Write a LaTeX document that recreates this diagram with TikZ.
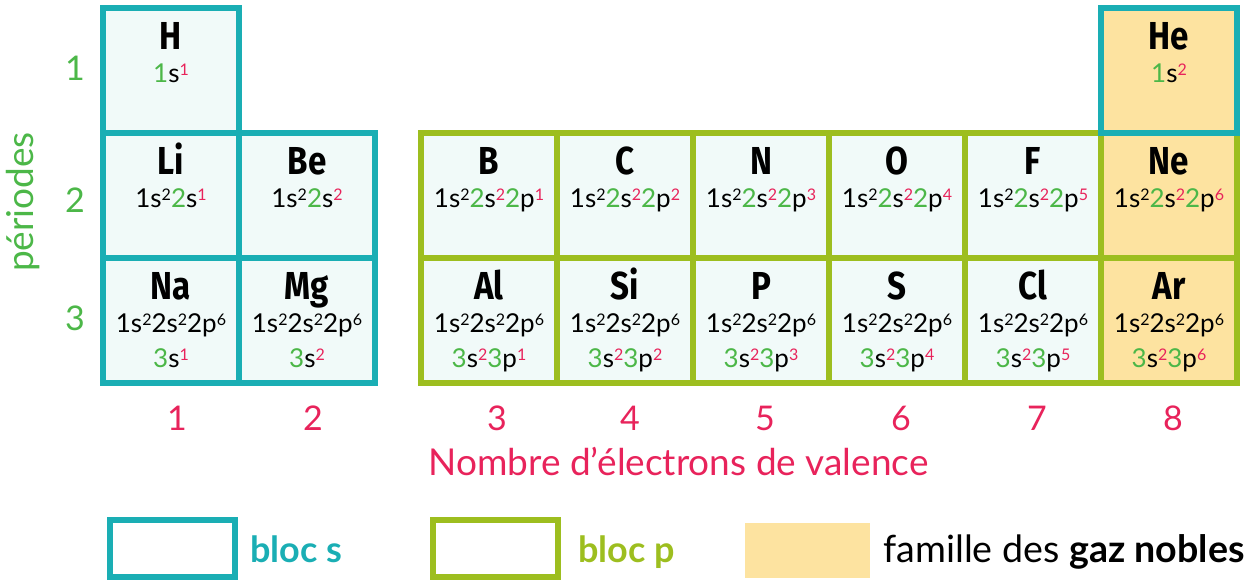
\documentclass[tikz,border=0pt]{standalone}
\usepackage{fontspec}
\setmainfont{Lato}
\newfontfamily\symbfont[FakeStretch=0.85]{Fira Sans}
\usetikzlibrary{positioning}
\definecolor{sbloc}{HTML}{1AAEB4}
\definecolor{pbloc}{HTML}{9DBE1F}
\definecolor{noble}{HTML}{FDE3A0}
\definecolor{cellfill}{HTML}{F1FAF9}
\definecolor{vgreen}{HTML}{4CB748}
\definecolor{vpink}{HTML}{E8235B}
\newcommand{\expo}[1]{\raisebox{3.7pt}{\fontsize{8}{8}\selectfont #1}}
\newcommand{\orbC}[2]{#1\expo{#2}}
\newcommand{\orbV}[3]{\textcolor{vgreen}{#1}#2\expo{\textcolor{vpink}{#3}}}
\newcommand{\coreNe}{\orbC{1s}{2}\orbC{2s}{2}\orbC{2p}{6}}

\begin{document}
\begin{tikzpicture}[x=0.5pt, y=-0.5pt,
	cell/.style={draw, line width=3pt, fill=cellfill, minimum width=68pt, minimum height=62.5pt, inner sep=0pt, outer sep=0pt},
	sbox/.style={cell, draw=sbloc},
	pbox/.style={cell, draw=pbloc},
	gbox/.style={cell, draw=pbloc, fill=noble},
	hebox/.style={cell, draw=sbloc, fill=noble},
	symb/.style={anchor=base, inner sep=0pt, font=\symbfont\bfseries\fontsize{19.5}{20}\selectfont},
	conf/.style={anchor=base, inner sep=0pt, font=\fontsize{13}{14}\selectfont},
	axlbl/.style={anchor=base, inner sep=0pt, font=\fontsize{17}{18}\selectfont},
	legtxt/.style={anchor=base west, inner sep=0pt, font=\fontsize{18}{20}\selectfont}]
	\useasboundingbox (0,0) rectangle (1253,580);
%
	% periodes 1 et 2 (He en dernier, par-dessus Ne)
	\foreach \nm/\x/\y/\sty/\la in {H/171/70/sbox/{\orbV{1}{s}{1}},
		Li/171/195/sbox/{\orbC{1s}{2}\orbV{2}{s}{1}}, Be/307/195/sbox/{\orbC{1s}{2}\orbV{2}{s}{2}},
		B/489/195/pbox/{\orbC{1s}{2}\orbV{2}{s}{2}\orbV{2}{p}{1}}, C/625/195/pbox/{\orbC{1s}{2}\orbV{2}{s}{2}\orbV{2}{p}{2}},
		N/761/195/pbox/{\orbC{1s}{2}\orbV{2}{s}{2}\orbV{2}{p}{3}}, O/897/195/pbox/{\orbC{1s}{2}\orbV{2}{s}{2}\orbV{2}{p}{4}},
		F/1033/195/pbox/{\orbC{1s}{2}\orbV{2}{s}{2}\orbV{2}{p}{5}}, Ne/1169/195/gbox/{\orbC{1s}{2}\orbV{2}{s}{2}\orbV{2}{p}{6}},
		He/1169/70/hebox/{\orbV{1}{s}{2}}} {
		\node[\sty] (\nm) at (\x,\y) {};
		\node[symb] (\nm-sym) at ([yshift=-21pt]\nm.north) {\nm};
		\node[conf] (\nm-c1) at ([yshift=-37.5pt]\nm.north) {\la};
	}
	% periode 3
	\foreach \nm/\x/\sty/\lb in {Na/171/sbox/{\orbV{3}{s}{1}}, Mg/307/sbox/{\orbV{3}{s}{2}},
		Al/489/pbox/{\orbV{3}{s}{2}\orbV{3}{p}{1}}, Si/625/pbox/{\orbV{3}{s}{2}\orbV{3}{p}{2}},
		P/761/pbox/{\orbV{3}{s}{2}\orbV{3}{p}{3}}, S/897/pbox/{\orbV{3}{s}{2}\orbV{3}{p}{4}},
		Cl/1033/pbox/{\orbV{3}{s}{2}\orbV{3}{p}{5}}, Ar/1169/gbox/{\orbV{3}{s}{2}\orbV{3}{p}{6}}} {
		\node[\sty] (\nm) at (\x,320) {};
		\node[symb] (\nm-sym) at ([yshift=-21pt]\nm.north) {\nm};
		\node[conf] (\nm-c1) at ([yshift=-37.5pt]\nm.north) {\coreNe};
		\node[conf] (\nm-c2) at ([yshift=-55pt]\nm.north) {\lb};
	}
%
	% numeros des periodes
	\foreach \i/\y in {1/80, 2/212, 3/330}
		\node[axlbl, text=vgreen] (per\i) at (75,\y) {\i};
	\node[axlbl, text=vgreen, rotate=90, font=\fontsize{18.5}{19}\selectfont] (periodes) at (33,202) {périodes};
	% electrons de valence
	\foreach \i/\x in {1/177, 2/313, 3/497, 4/630, 5/765, 6/901, 7/1037, 8/1173}
		\node[axlbl, text=vpink] (val\i) at (\x,430) {\i};
	\node[axlbl, text=vpink, font=\fontsize{18.5}{19}\selectfont] (valence) at (678.5,475) {Nombre d'électrons de valence};
%
	% legende
	\node[draw=sbloc, line width=3pt, minimum width=62.5pt, minimum height=28.5pt, inner sep=0pt] (legS) at (172.5,548.5) {};
	\node[legtxt, text=sbloc] (legStxt) at (250,562) {\textbf{bloc s}};
	\node[draw=pbloc, line width=3pt, minimum width=62.5pt, minimum height=28.5pt, inner sep=0pt] (legP) at (495.5,548.5) {};
	\node[legtxt, text=pbloc] (legPtxt) at (578,562) {\textbf{bloc p}};
	\node[fill=noble, minimum width=62.5pt, minimum height=27.5pt, inner sep=0pt] (legN) at (807.5,550.5) {};
	\node[legtxt, font=\fontsize{18.8}{20}\selectfont] (legNtxt) at (883,562) {famille des \textbf{gaz nobles}};
\end{tikzpicture}
\end{document}
